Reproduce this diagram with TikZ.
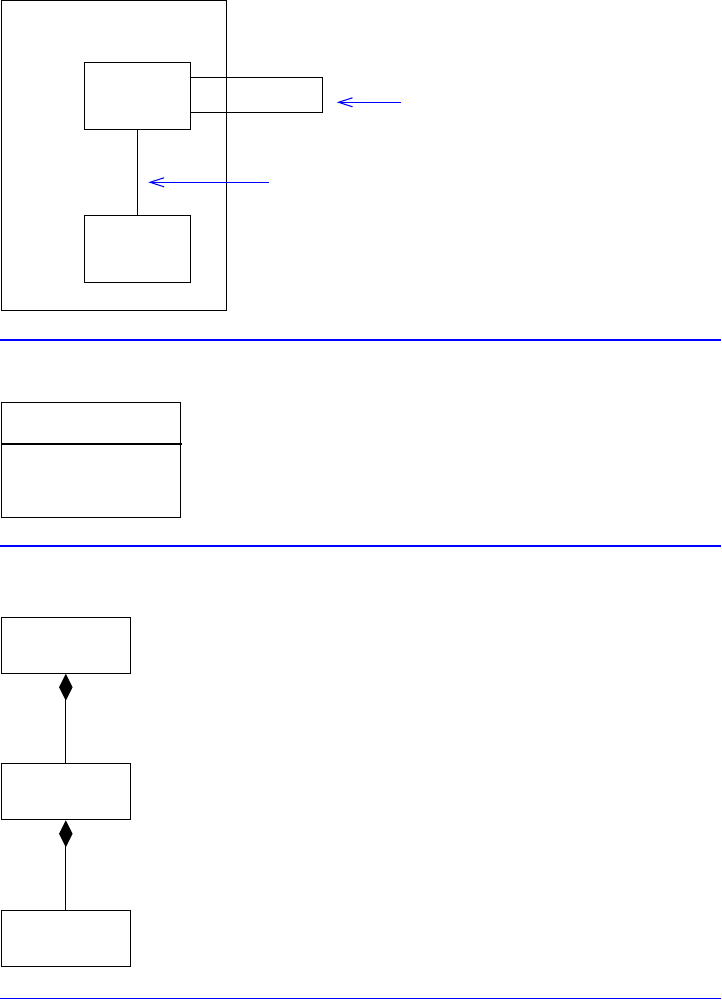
\documentclass[tikz,border=0pt]{standalone}
\usetikzlibrary{positioning, arrows.meta, calc}

\begin{document}
\begin{tikzpicture}[x=0.02cm, y=-0.02cm,
    box/.style={rectangle, draw, line width=0.6pt, inner sep=0pt},
    sep/.style={draw=blue, line width=1.1pt},
    note/.style={-{Straight Barb[length=0.28cm, width=0.18cm]}, draw=blue, line width=0.6pt},
    comp/.style={{Diamond[length=0.54cm, width=0.27cm]}-, line width=0.6pt}]

  \useasboundingbox (0,0) rectangle (721,1000);

  % structure view
  \node[box, minimum width=4.51cm, minimum height=6.2cm] (frame) at (114,155.6) {};
  \node[box, minimum width=2.64cm, minimum height=0.70cm] (port) at (256.3,94.8) {};
  \node[box, fill=white, minimum width=2.12cm, minimum height=1.34cm] (ctl) at (137.3,95.8) {};
  \node[box, minimum width=2.12cm, minimum height=1.34cm] (dev) at (137.3,248.8) {};
  \draw[line width=0.6pt] (ctl) -- (dev);

  \coordinate (n1) at (400.7,102.3);
  \coordinate (n2) at (268.7,182.3);
  \draw[note, shorten >=0.28cm] (n1) -- (port.east |- n1);
  \draw[note, shorten >=0.22cm] (n2) -- (n2 -| ctl.south);

  \coordinate (s1) at (0,340);
  \draw[sep] (s1) -- ++(721,0);

  % class box
  \node[box, minimum width=3.58cm, minimum height=2.3cm] (cls) at (90.8,459.8) {};
  \coordinate (div) at (0,444.3);
  \draw[line width=1pt] (cls.west |- div) -- ([xshift=0.03cm]cls.east |- div);

  \coordinate (s2) at (0,546);
  \draw[sep] (s2) -- ++(721,0);

  % composition chain
  \node[box, minimum width=2.58cm, minimum height=1.12cm] (whole) at (65.8,645.2) {};
  \node[box, minimum width=2.58cm, minimum height=1.12cm] (part) at (65.8,791.8) {};
  \node[box, minimum width=2.58cm, minimum height=1.12cm] (leaf) at (65.8,938.3) {};
  \draw[comp] (whole) -- (part);
  \draw[comp] (part) -- (leaf);

  \coordinate (s3) at (0,998.5);
  \draw[sep] (s3) -- ++(721,0);
\end{tikzpicture}
\end{document}
